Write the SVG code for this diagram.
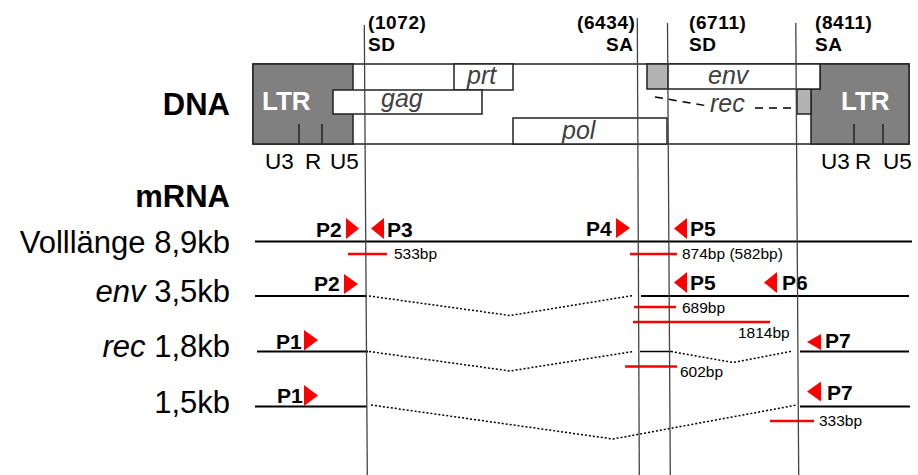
<svg xmlns="http://www.w3.org/2000/svg" width="918" height="475" viewBox="0 0 918 475">
<defs>
<style>
text{font-family:"Liberation Sans",Arial,sans-serif;fill:#000}
.big{font-size:31px}
.bold{font-weight:bold}
.top{font-size:19px;font-weight:bold;letter-spacing:0.6px}
.gene{font-size:25px;font-style:italic;fill:#404040}
.ltr{font-size:26px;font-weight:bold;fill:#fff}
.u{font-size:22.5px}
.p{font-size:21px;font-weight:bold}
.bp{font-size:15.5px}
.box{stroke:#222;stroke-width:1.5}
.dark{fill:#808080}
.light{fill:#b3b3b3}
.white{fill:#fff}
.vline{stroke:#444;stroke-width:1.3;fill:none}
.mrna{stroke:#000;stroke-width:2;fill:none}
.thin{stroke:#000;stroke-width:1.5;fill:none}
.dot{stroke:#000;stroke-width:1.5;stroke-dasharray:2 2;fill:none}
.dash{stroke:#000;stroke-width:1.5;stroke-dasharray:8 6;fill:none}
.red{stroke:#f00;stroke-width:2.5;fill:none}
.tri{fill:#f00}
</style>
</defs>

<g id="labels">
<text class="big bold" x="230" y="115" text-anchor="end">DNA</text>
<text class="big bold" x="230" y="207" text-anchor="end">mRNA</text>
<text class="big" x="230" y="253" text-anchor="end">Volllänge 8,9kb</text>
<text class="big" x="230" y="302" text-anchor="end"><tspan font-style="italic">env</tspan> 3,5kb</text>
<text class="big" x="230" y="357" text-anchor="end"><tspan font-style="italic">rec</tspan> 1,8kb</text>
<text class="big" x="230" y="413" text-anchor="end">1,5kb</text>
</g>

<g id="dna">
<rect class="box white" x="253" y="64" width="656" height="80"/>
<rect class="box dark" x="253" y="64" width="100" height="80"/>
<polygon class="box dark" points="820,64 909,64 909,144 811,144 811,89 820,89"/>
<rect class="box light" x="797" y="89" width="14" height="25"/>
<rect class="box light" x="647" y="64" width="21" height="25"/>
<rect class="box white" x="668" y="64" width="152" height="25"/>
<rect class="box white" x="454" y="64" width="59" height="26"/>
<rect class="box white" x="333" y="90" width="149" height="24"/>
<rect class="box white" x="513" y="118" width="154" height="26"/>
<line class="box" x1="299" y1="124" x2="299" y2="144"/>
<line class="box" x1="322" y1="124" x2="322" y2="144"/>
<line class="box" x1="854" y1="124" x2="854" y2="144"/>
<line class="box" x1="883" y1="124" x2="883" y2="144"/>
<text class="ltr" x="262" y="110">LTR</text>
<text class="ltr" x="841" y="110">LTR</text>
<text class="gene" x="467" y="84">prt</text>
<text class="gene" x="381" y="107">gag</text>
<text class="gene" x="562" y="139">pol</text>
<text class="gene" x="708" y="84">env</text>
<text class="gene" x="710" y="112">rec</text>
<line class="dash" x1="655" y1="97" x2="705" y2="105.5"/>
<line class="dash" x1="755" y1="108" x2="792" y2="108"/>
<text class="u" y="169"><tspan x="265">U3</tspan><tspan x="305">R</tspan><tspan x="330">U5</tspan></text>
<text class="u" y="169"><tspan x="821">U3</tspan><tspan x="855">R</tspan><tspan x="883">U5</tspan></text>
</g>

<g id="sites">
<text class="top" x="368" y="29.3">(1072)</text>
<text class="top" x="368" y="50.6">SD</text>
<text class="top" x="577" y="29.3">(6434)</text>
<text class="top" x="606" y="50.6">SA</text>
<text class="top" x="689" y="29.3">(6711)</text>
<text class="top" x="689" y="50.6">SD</text>
<text class="top" x="815" y="29.3">(8411)</text>
<text class="top" x="815" y="50.6">SA</text>
</g>

<g id="mrna-full">
<line class="mrna" x1="255" y1="241.5" x2="912" y2="241.5"/>
<text class="p" x="316" y="237">P2</text>
<polygon class="tri" points="346,218 346,239 359,228.5"/>
<polygon class="tri" points="384,218 384,239 371,228.5"/>
<text class="p" x="387" y="237">P3</text>
<text class="p" x="586" y="236">P4</text>
<polygon class="tri" points="616,218 616,238 630,228"/>
<polygon class="tri" points="687,218 687,239 674,228.5"/>
<text class="p" x="690" y="236">P5</text>
<line class="red" x1="348" y1="254" x2="387" y2="254"/>
<text class="bp" x="394" y="259">533bp</text>
<line class="red" x1="630" y1="254" x2="677" y2="254"/>
<text class="bp" x="682" y="259">874bp (582bp)</text>
</g>

<g id="mrna-env">
<line class="mrna" x1="255" y1="296" x2="367" y2="296"/>
<polyline class="dot" points="369,296 510,315.5 633,295.5"/>
<line class="mrna" x1="641" y1="296" x2="909" y2="296"/>
<text class="p" x="314" y="291">P2</text>
<polygon class="tri" points="344,274 344,294 358,284"/>
<polygon class="tri" points="687,272 687,293 674,282.5"/>
<text class="p" x="690" y="290">P5</text>
<polygon class="tri" points="777,272 777,293 764,282.5"/>
<text class="p" x="782" y="290">P6</text>
<line class="red" x1="634" y1="307" x2="676" y2="307"/>
<text class="bp" x="682" y="313">689bp</text>
<line class="red" x1="633" y1="322" x2="770" y2="322"/>
<text class="bp" x="738" y="338">1814bp</text>
</g>

<g id="mrna-rec">
<line class="mrna" x1="257" y1="351.5" x2="368" y2="351.5"/>
<polyline class="dot" points="369,351.5 510,371 633,351.5"/>
<line class="thin" x1="640" y1="351.5" x2="671" y2="351.5"/>
<polyline class="dot" points="671,351.5 733,362.5 793,351"/>
<line class="mrna" x1="800" y1="351.5" x2="909" y2="351.5"/>
<text class="p" x="276" y="349">P1</text>
<polygon class="tri" points="304,330 304,350.5 318,340"/>
<polygon class="tri" points="821,334 821,350 807,342"/>
<text class="p" x="825" y="348">P7</text>
<line class="red" x1="625" y1="366.5" x2="677" y2="366.5"/>
<text class="bp" x="680" y="376.5">602bp</text>
</g>

<g id="mrna-1-5">
<line class="mrna" x1="255" y1="406.5" x2="367" y2="406.5"/>
<polyline class="dot" points="371,405 613,439 797,405"/>
<line class="mrna" x1="800" y1="406.5" x2="910" y2="406.5"/>
<text class="p" x="277" y="403">P1</text>
<polygon class="tri" points="304,385 304,406 318,395.5"/>
<polygon class="tri" points="821,381.5 821,401.5 807,391.5"/>
<text class="p" x="827" y="400">P7</text>
<line class="red" x1="770" y1="421" x2="814" y2="421"/>
<text class="bp" x="819" y="426">333bp</text>
</g>

<g id="connectors">
<line class="vline" x1="364.3" y1="25" x2="367.3" y2="475"/>
<line class="vline" x1="637.3" y1="18" x2="639.3" y2="475"/>
<line class="vline" x1="667.5" y1="23" x2="670.3" y2="475"/>
<line class="vline" x1="795.8" y1="23" x2="798.7" y2="475"/>
</g>
</svg>
